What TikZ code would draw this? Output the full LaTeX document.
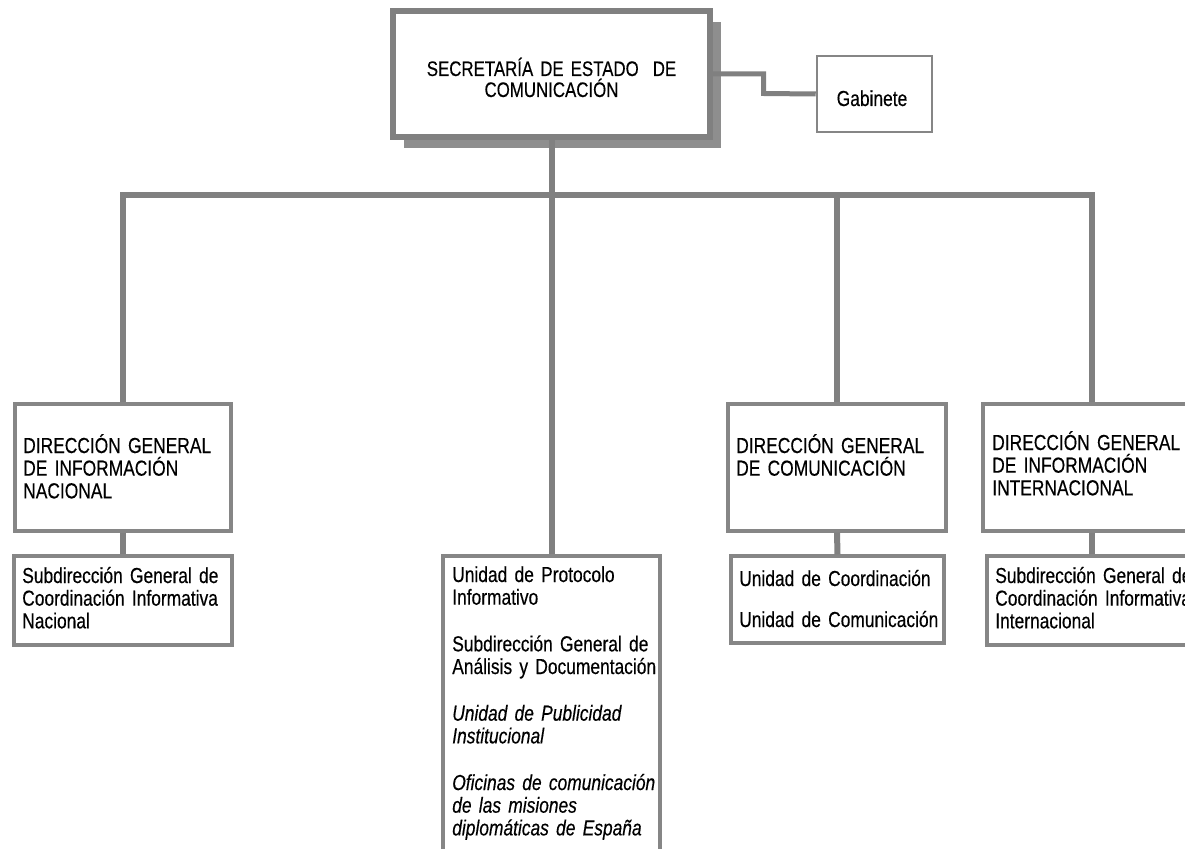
\documentclass[tikz,border=0pt]{standalone}
\usepackage{fontspec}
\setmainfont{Liberation Sans}[FakeStretch=0.80, FakeBold=0.35, WordSpace=0.8]
\usetikzlibrary{fit,shadows}
\definecolor{linegray}{HTML}{808080}
\definecolor{boxgray}{HTML}{868686}
\definecolor{shadowgray}{HTML}{8E8E8E}
\tikzset{
  conn/.style={draw=linegray, line width=4.5pt},
  thinconn/.style={draw=linegray, line width=3.75pt},
  orgbox/.style={draw=boxgray, line width=2.3pt, fill=white, inner sep=0pt},
  topbox/.style={draw=linegray, line width=4.5pt, fill=white, inner sep=0pt,
    drop shadow={shadow xshift=8pt, shadow yshift=-8pt, fill=shadowgray, opacity=1}},
  txt/.style={inner sep=0pt, align=left, text width=240pt, anchor=base west,
    font=\fontsize{16.3pt}{17pt}\selectfont},
  ctxt/.style={inner sep=0pt, align=center, text width=225pt, anchor=base,
    font=\fontsize{15.8pt}{15.75pt}\selectfont},
}
\begin{document}
\begin{tikzpicture}[x=0.75pt,y=-0.75pt]
\useasboundingbox (0,0) rectangle (1185,849);
\clip (0,0) rectangle (1185,849);

% boxes
\node[topbox, fit={(393,11) (710,137)}] (top) {};
\node[orgbox, line width=1.9pt, fit={(817,56) (932,132)}] (gab) {};
\node[orgbox, fit={(15,404) (231,531)}] (dg1) {};
\node[orgbox, fit={(14,556) (232,645)}] (sub1) {};
\node[orgbox, fit={(443,556) (660,880)}] (mid) {};
\node[orgbox, fit={(728,404) (946,531)}] (dg3) {};
\node[orgbox, fit={(731,556) (944,643)}] (sub3) {};
\node[orgbox, fit={(983,404) (1200,531)}] (dg4) {};
\node[orgbox, fit={(987,556) (1196,645)}] (sub4) {};

% connectors
\coordinate (j) at (551.5,195);
\coordinate (bend) at (763.5,93.5);
\draw[thinconn] (top.east) -| (bend) -- (gab.west);
\draw[conn] (top.south) -- (j) -- (mid.north);
\draw[conn] (dg1.north) |- (j) -| (dg4.north);
\draw[conn] (j -| dg3.north) -- (dg3.north);
\draw[conn] (dg1.south) -- (sub1.north);
\draw[conn] (dg3.south) -- (sub3.north);
\draw[conn] (dg4.south) -- (sub4.north);

% texts
\node[ctxt] (toptxt) at (551.5,76) {SECRETARÍA DE ESTADO~ DE\\COMUNICACIÓN};
\node[inner sep=0pt, anchor=base, font=\fontsize{16.3pt}{17pt}\selectfont] (gabtxt) at (872,106) {Gabinete};
\node[txt] (dg1txt) at (23,453) {DIRECCIÓN GENERAL\\DE INFORMACIÓN\\NACIONAL};
\node[txt] (sub1txt) at (22,583) {Subdirección General de\\Coordinación Informativa\\Nacional};
\node[txt] (midtxt) at (452,582) {Unidad de Protocolo\\Informativo\\[18pt]
  Subdirección General de\\Análisis y Documentación\\[18pt]
  \textit{Unidad de Publicidad}\\\textit{Institucional}\\[18pt]
  \textit{Oficinas de comunicación}\\\textit{de las misiones}\\\textit{diplomáticas de España}};
\node[txt] (dg3txt) at (736,453) {DIRECCIÓN GENERAL\\DE COMUNICACIÓN};
\node[txt] (sub3txt) at (739,586) {Unidad de Coordinación\\[13.75pt]Unidad de Comunicación};
\node[txt] (dg4txt) at (992,450) {DIRECCIÓN GENERAL\\DE INFORMACIÓN\\INTERNACIONAL};
\node[txt] (sub4txt) at (995,583) {Subdirección General de\\Coordinación Informativa\\Internacional};
\end{tikzpicture}
\end{document}
